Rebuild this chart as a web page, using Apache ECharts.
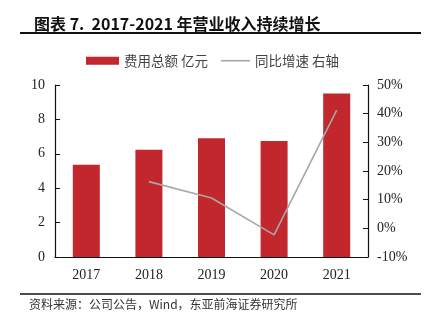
<!DOCTYPE html>
<html><head><meta charset="utf-8">
<script src="https://cdn.jsdelivr.net/npm/echarts@6/dist/echarts.min.js"></script>
<style>html,body{margin:0;padding:0;background:#fff}#c{width:428px;height:333px}</style>
</head><body><div id="c"></div>
<script>
var categories = ['2017','2018','2019','2020','2021'];
var expenseTotal = [5.37, 6.24, 6.90, 6.74, 9.50];
var yoyGrowth = [null, 16.3, 10.6, -2.3, 41.2];
var leftTicks = [0, 2, 4, 6, 8, 10];
var rightTicks = [-10, 0, 10, 20, 30, 40, 50];

var chart = echarts.init(document.getElementById('c'), null, {renderer: 'canvas'});
var serif = '"Liberation Serif","Times New Roman",serif';
var cjk = '"Noto Sans CJK SC",sans-serif';
chart.setOption({
  animation: false,
  backgroundColor: '#fff',
  title: {
    text: '图表 7.  2017-2021 年营业收入持续增长',
    left: 29, top: 11,
    textStyle: {fontFamily: cjk, fontSize: 16, fontWeight: 'bold', color: '#111'}
  },
  graphic: [
    {type: 'line', shape: {x1: 20, y1: 33, x2: 421, y2: 33}, style: {stroke: '#111', lineWidth: 2}},
    {type: 'line', shape: {x1: 20, y1: 294, x2: 421, y2: 294}, style: {stroke: '#111', lineWidth: 1.5}},
    {type: 'text', left: 29, top: 298, style: {text: '资料来源：公司公告，Wind，东亚前海证券研究所', fontFamily: cjk, fontSize: 12, fill: '#333'}}
  ],
  legend: [
    {top: 49, left: 81, itemGap: 6,
     textStyle: {fontFamily: cjk, fontSize: 13.5, color: '#444'},
     data: [{name: '费用总额 亿元', icon: 'rect', itemStyle: {color: '#C1272D'}}],
     itemWidth: 33, itemHeight: 8},
    {top: 49, left: 216, itemGap: 6,
     textStyle: {fontFamily: cjk, fontSize: 13.5, color: '#444'},
     data: [{name: '同比增速 右轴', icon: 'rect', itemStyle: {color: '#A8A8A8'}}],
     itemWidth: 29, itemHeight: 1.6}
  ],
  grid: {left: 55, right: 60, top: 85, bottom: 76},
  xAxis: {
    type: 'category', data: categories,
    axisLine: {lineStyle: {color: '#111', width: 1.2}},
    axisTick: {show: false},
    axisLabel: {fontFamily: serif, fontSize: 14, color: '#222', margin: 11}
  },
  yAxis: [
    {type: 'value', min: 0, max: 10, interval: 2,
     axisLine: {show: true, lineStyle: {color: '#111', width: 1.2}},
     axisTick: {show: true, inside: true, length: 5, lineStyle: {color: '#111'}},
     splitLine: {show: false},
     axisLabel: {fontFamily: serif, fontSize: 14, color: '#222', margin: 10}},
    {type: 'value', min: -10, max: 50, interval: 10,
     axisLine: {show: true, lineStyle: {color: '#111', width: 1.2}},
     axisTick: {show: true, inside: true, length: 5, lineStyle: {color: '#111'}},
     splitLine: {show: false},
     axisLabel: {fontFamily: serif, fontSize: 14, color: '#222', margin: 9, formatter: '{value}%'}}
  ],
  series: [
    {name: '费用总额 亿元', type: 'bar', data: expenseTotal, barWidth: 27,
     itemStyle: {color: '#C1272D'}},
    {name: '同比增速 右轴', type: 'line', yAxisIndex: 1, data: yoyGrowth,
     symbol: 'none', lineStyle: {color: '#A8A8A8', width: 1.6}, itemStyle: {color: '#A8A8A8'}}
  ]
});
</script></body></html>
